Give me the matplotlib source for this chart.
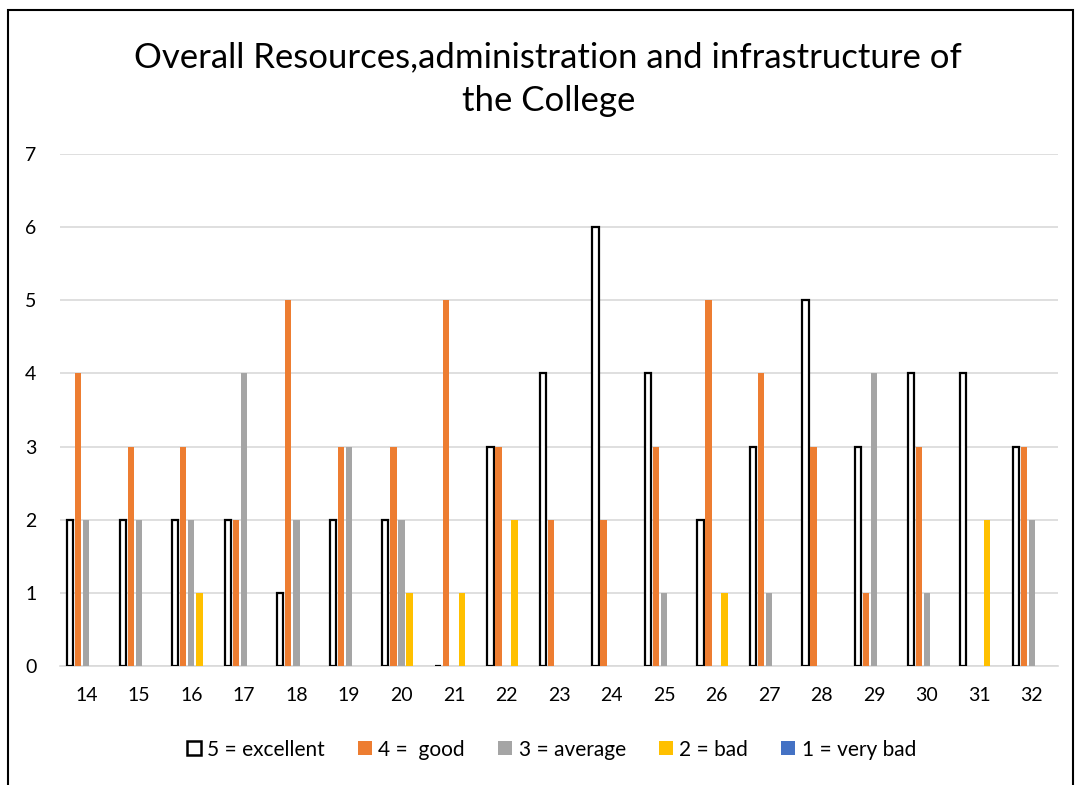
import matplotlib
matplotlib.use("Agg")
import matplotlib.pyplot as plt
import numpy as np
from matplotlib.patches import Rectangle

categories = ["14", "15", "16", "17", "18", "19", "20", "21", "22", "23",
              "24", "25", "26", "27", "28", "29", "30", "31", "32"]
excellent = [2, 2, 2, 2, 1, 2, 2, 0, 3, 4, 6, 4, 2, 3, 5, 3, 4, 4, 3]
good      = [4, 3, 3, 2, 5, 3, 3, 5, 3, 2, 2, 3, 5, 4, 3, 1, 3, 0, 3]
average   = [2, 2, 2, 4, 2, 3, 2, 0, 0, 0, 0, 1, 0, 1, 0, 4, 1, 0, 2]
bad       = [0, 0, 1, 0, 0, 0, 1, 1, 2, 0, 0, 0, 1, 0, 0, 0, 0, 2, 0]
very_bad  = [0] * 19
labels = ["5 = excellent", "4 =  good", "3 = average", "2 = bad", "1 = very bad"]

plt.rcParams['font.family'] = ['Lato', 'DejaVu Sans']

fig = plt.figure(figsize=(10.77, 7.85), dpi=100)
ax = fig.add_axes([0.0557, 0.1516, 0.9267, 0.6522])

x = np.arange(len(categories))
w = 0.153
colors = ["white", "#ED7D31", "#A5A5A5", "#FFC000", "#4472C4"]
series = [excellent, good, average, bad, very_bad]
for i, (vals, c) in enumerate(zip(series, colors)):
    off = (i - 2) * w
    if i == 0:
        ax.bar(x + off, vals, width=0.118, color="white", edgecolor="black",
               linewidth=1.6, zorder=3)
    else:
        v = np.array(vals, dtype=float)
        mask = v > 0
        ax.bar((x + off)[mask], v[mask], width=0.12, color=c, linewidth=0, zorder=3)

ax.set_xlim(-0.5, len(categories) - 0.5)
ax.set_ylim(0, 7)
ax.set_yticks(range(0, 8))
ax.set_xticks(x)
ax.set_xticklabels(categories)
ax.tick_params(axis='both', length=0, labelsize=14)
ax.tick_params(axis='x', pad=15)
ax.tick_params(axis='y', pad=17)
ax.grid(axis='y', color="#D9D9D9", linewidth=1.2, zorder=0)
ax.set_axisbelow(True)
for s in ['top', 'right', 'left']:
    ax.spines[s].set_visible(False)
ax.spines['bottom'].set_color("#D9D9D9")
ax.spines['bottom'].set_linewidth(1.2)

fig.text(0.509, 0.899, "Overall Resources,administration and infrastructure of\nthe College",
         ha='center', va='center', fontsize=25, linespacing=1.45)

handles = [Rectangle((0, 0), 1, 1, facecolor="white", edgecolor="black", linewidth=1.8)] + \
          [Rectangle((0, 0), 1, 1, facecolor=c, edgecolor="none") for c in colors[1:]]
fig.legend(handles, labels, loc='center', bbox_to_anchor=(0.512, 0.045), ncol=5,
           frameon=False, fontsize=15, handlelength=0.67, handleheight=0.67,
           handletextpad=0.3, columnspacing=1.6, borderaxespad=0, borderpad=0)

border = Rectangle((0.0074, -0.05), 0.9889, 1.0373, transform=fig.transFigure,
                   fill=False, edgecolor="black", linewidth=1.5)
fig.add_artist(border)

fig.savefig("out.png", dpi=100)
